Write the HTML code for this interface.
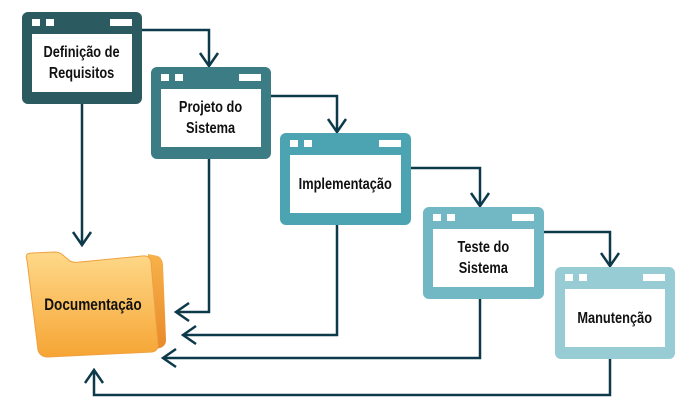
<!DOCTYPE html>
<html><head><meta charset="utf-8"><style>
body{margin:0;width:685px;height:412px;background:#fff;position:relative;overflow:hidden;font-family:"Liberation Sans",sans-serif}
.b{position:absolute;border-radius:6px}
.b .s1,.b .s2,.b .bar{position:absolute;top:7px;height:7px;background:#fff}
.b .s1{left:10px;width:8px}.b .s2{left:24px;width:8px}
.b .bar{right:10px;width:22px}
.b .in{position:absolute;left:10px;right:10px;top:22px;bottom:12px;background:#fff;display:flex;align-items:center;justify-content:center;text-align:center;font-weight:bold;font-size:16px;line-height:21px;color:#111}
.in span,.lbl span{display:inline-block;transform:scaleX(0.8);white-space:nowrap}
.lbl{position:absolute;font-weight:bold;font-size:17px;color:#111;width:130px;text-align:center}
</style></head><body>
<svg width="685" height="412" style="position:absolute;left:0;top:0">
<defs><linearGradient id="g" x1="0" y1="0" x2="0" y2="1"><stop offset="0" stop-color="#fed98a"/><stop offset="1" stop-color="#f6a534"/></linearGradient>
<linearGradient id="g2" x1="0" y1="0" x2="0" y2="1"><stop offset="0" stop-color="#f7b24a"/><stop offset="1" stop-color="#e9892a"/></linearGradient></defs>
<path d="M148 254 L158 256 Q162 258 163 264 L166 340 Q166 346 160 348 L150 350 Z" fill="url(#g2)"/>
<path d="M27 260 Q24 253 32 253 L55 252 Q60 252 64 256 L70 261 Q74 263 80 262 L142 256 Q150 255 151 262 L158 345 Q158 351 152 352 L48 357 Q40 357 38 350 Z" fill="url(#g)" stroke="#f0a040" stroke-width="1"/>
<g fill="none" stroke="#0d3a4a" stroke-width="2.5">
<polyline points="142,30 209,30 209,66"/><polyline points="200,53 209,66 218,53"/>
<polyline points="270,96 337,96 337,132"/><polyline points="328,119 337,132 346,119"/>
<polyline points="411,168 480,168 480,206"/><polyline points="471,193 480,206 489,193"/>
<polyline points="543,232 610,232 610,266"/><polyline points="601,253 610,266 619,253"/>
<polyline points="82,104 82,245"/><polyline points="73,232 82,245 91,232"/>
<polyline points="209,158 209,312 176,312"/><polyline points="189,303 176,312 189,321"/>
<polyline points="337,225 337,335 183,335"/><polyline points="196,326 183,335 196,344"/>
<polyline points="480,299 480,358 163,358"/><polyline points="176,349 163,358 176,367"/>
<polyline points="610,359 610,395 94,395 94,370"/><polyline points="85,383 94,370 103,383"/>
</g></svg>
<div class="b" style="left:22px;top:12px;width:120px;height:92px;background:#2b5b61"><i class="s1"></i><i class="s2"></i><i class="bar"></i><div class="in"><span>Definição de<br>Requisitos</span></div></div>
<div class="b" style="left:151px;top:67px;width:120px;height:92px;background:#3c7c84"><i class="s1"></i><i class="s2"></i><i class="bar"></i><div class="in"><span>Projeto do<br>Sistema</span></div></div>
<div class="b" style="left:280px;top:133px;width:131px;height:92px;background:#4ca3b2"><i class="s1"></i><i class="s2"></i><i class="bar"></i><div class="in"><span>Implementação</span></div></div>
<div class="b" style="left:423px;top:207px;width:121px;height:92px;background:#72b7c4"><i class="s1"></i><i class="s2"></i><i class="bar"></i><div class="in"><span>Teste do<br>Sistema</span></div></div>
<div class="b" style="left:555px;top:267px;width:120px;height:92px;background:#97ccd5"><i class="s1"></i><i class="s2"></i><i class="bar"></i><div class="in"><span>Manutenção</span></div></div>
<div class="lbl" style="left:28px;top:295px"><span>Documentação</span></div>
</body></html>
